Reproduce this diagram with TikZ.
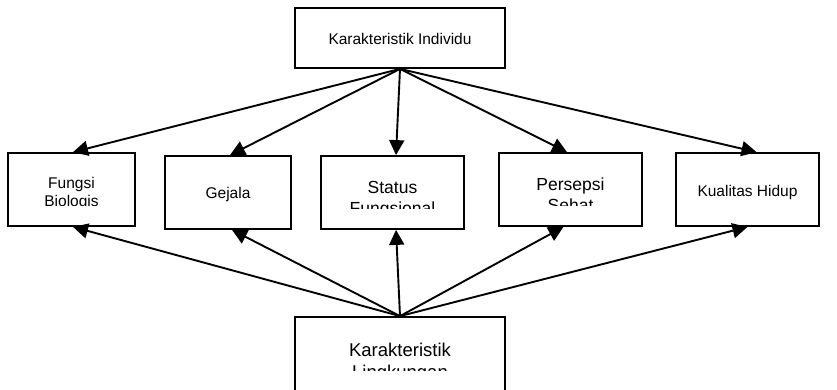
\documentclass[tikz,border=0pt]{standalone}
\usepackage{fontspec}
\setmainfont{Liberation Sans}
\usetikzlibrary{arrows.meta}
\begin{document}
\begin{tikzpicture}[x=1pt,y=-1pt,
  box/.style={draw, line width=1.8pt, rectangle, inner sep=0pt},
  conn/.style={line width=1.9pt, -{Triangle[length=15pt,width=15pt]}},
  lblA/.style={anchor=base, inner sep=0pt, font=\fontsize{15.5}{18}\selectfont},
  lblB/.style={anchor=base, inner sep=0pt, font=\fontsize{17.5}{20}\selectfont},
  lblC/.style={anchor=base, inner sep=0pt, font=\fontsize{18.5}{21}\selectfont}]
\useasboundingbox (0,0) rectangle (837,389);
\clip (0,0) rectangle (837,389);
% boxes
\node[box, minimum width=210pt, minimum height=60pt] (top) at (400,38) {};
\node[box, minimum width=127pt, minimum height=73pt] (fb) at (71.5,189.5) {};
\node[box, minimum width=126pt, minimum height=73pt] (gj) at (228,192.5) {};
\node[box, minimum width=143pt, minimum height=73pt] (sf) at (392.5,192.5) {};
\node[box, minimum width=143pt, minimum height=73pt] (ps) at (570.5,189.5) {};
\node[box, minimum width=143pt, minimum height=73pt] (kh) at (747.5,189.5) {};
\node[box, minimum width=210pt, minimum height=100pt] (bot) at (400,367) {};
% labels
\node[lblA] (tl) at (400,44) {Karakteristik Individu};
\node[lblA] (gl) at (228,198) {Gejala};
\node[lblA] (kl) at (747.5,196) {Kualitas Hidup};
\begin{scope}
\clip (8,153) rectangle (135,205);
\node[lblA] (fl1) at (71.5,188) {Fungsi};
\node[lblA] (fl2) at (71.5,206.5) {Biologis};
\end{scope}
\begin{scope}
\clip (321,156) rectangle (464,208);
\node[lblB] (sl1) at (392.5,193) {Status};
\node[lblB] (sl2) at (392.5,214) {Fungsional};
\end{scope}
\begin{scope}
\clip (499,153) rectangle (642,205);
\node[lblB] (pl1) at (570.5,190) {Persepsi};
\node[lblB] (pl2) at (570.5,211) {Sehat};
\end{scope}
\begin{scope}
\clip (295,317) rectangle (505,370);
\node[lblC] (bl1) at (400,356) {Karakteristik};
\node[lblC] (bl2) at (400,378) {Lingkungan};
\end{scope}
% connectors from top
\draw[conn] (top.south) -- ([xshift=1.5pt]fb.north);
\draw[conn] (top.south) -- ([xshift=2pt]gj.north);
\draw[conn] (top.south) -- ([xshift=3.5pt]sf.north);
\draw[conn] (top.south) -- ([xshift=-3.5pt]ps.north);
\draw[conn] (top.south) -- ([xshift=9pt]kh.north);
% connectors from bottom
\draw[conn] (bot.north) -- ([xshift=1.5pt]fb.south);
\draw[conn] (bot.north) -- ([xshift=4pt]gj.south);
\draw[conn] (bot.north) -- ([xshift=3.5pt]sf.south);
\draw[conn] (bot.north) -- ([xshift=-7pt]ps.south);
\draw[conn] (bot.north) -- ([xshift=0pt]kh.south);
\end{tikzpicture}
\end{document}
